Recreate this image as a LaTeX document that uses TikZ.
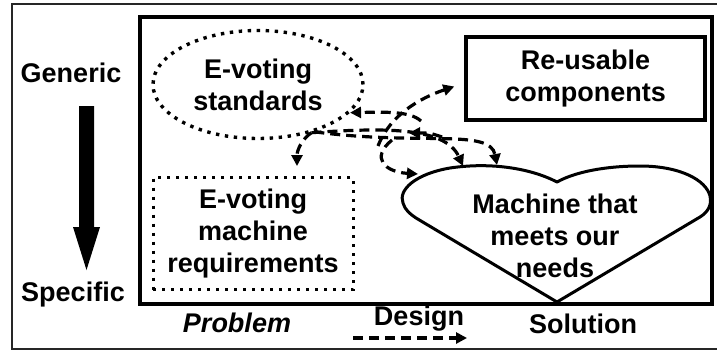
\documentclass[tikz,border=0pt]{standalone}
\usepackage{fontspec}
\setmainfont{Liberation Sans}
\usetikzlibrary{shapes.geometric,arrows.meta}
\tikzset{
  lbl/.style={font=\fontsize{27}{32}\selectfont\bfseries, inner sep=0pt, align=center},
  dotline/.style={line width=3.4pt, dash pattern=on 3.4pt off 5.6pt},
  dsh/.style={line width=3.2pt, dash pattern=on 10pt off 6pt, -{Triangle[length=11pt,width=11pt]}},
}
\begin{document}
\begin{tikzpicture}[x=1pt,y=-1pt]
\useasboundingbox (0,0) rectangle (717,351);
% outer and inner frames
\draw[line width=2.2pt, black!85] (12,4) rectangle (724,349);
\draw[line width=3.4pt] (140,17) rectangle (712,304);
% side labels and big arrow
\node[lbl, anchor=base] (gen) at (71,82) {Generic};
\node[lbl, anchor=base] (spec) at (73,301) {Specific};
\fill (79,106) -- (94,106) -- (94,227) -- (100,227) -- (86.5,270) -- (73,227) -- (79,227) -- cycle;
% boxes
\node[lbl, ellipse, draw, dotline, minimum width=210pt, minimum height=108pt] (std) at (258,84.5) {E-voting\\standards};
\node[lbl, draw, line width=3.4pt, minimum width=239pt, minimum height=83pt] (reu) at (585.5,78.5) {Re-usable\\components};
\node[lbl, draw, dotline, line width=3pt, dash pattern=on 3pt off 6pt, minimum width=200pt, minimum height=112pt] (req) at (253,233.5) {E-voting\\machine\\requirements};
% heart
\draw[line width=3pt, line join=round] (557,182) .. controls (530,168) and (490,162) .. (450,168)
  .. controls (415,174) and (398,190) .. (403,203)
  .. controls (405,210) and (410,214) .. (416,218) -- (557,302) -- (700,217)
  .. controls (708,212) and (712,205) .. (710,196)
  .. controls (706,180) and (680,166) .. (640,166)
  .. controls (605,166) and (575,172) .. (557,182) -- cycle;
\node[lbl] (heart) at (555,236) {Machine that\\meets our\\needs};
% named free ends
\coordinate (h1) at (463,166);
\coordinate (h2) at (497,165);
\coordinate (hl) at (418,174);
\coordinate (c1) at (378,146);
\coordinate (c2) at (421,121);
\coordinate (c3) at (392,140);
\coordinate (c4) at (442,137);
\coordinate (c5) at (409,133);
% dashed connectors
\draw[dsh] (std.-42) .. controls (380,128) and (445,126) .. (h1);
\draw[dsh] (std.-40) .. controls (420,146) and (490,128) .. (h2);
\draw[dsh] (std.-42) .. controls (302,139) and (297,150) .. ([xshift=44pt,yshift=10pt]req.north);
\draw[dsh] (c2) .. controls (410,111) and (385,112) .. (std.-17);
\draw[dsh] (c1) .. controls (390,115) and (420,98) .. ([xshift=-10pt,yshift=-8pt]reu.west);
\draw[dsh] (c3) .. controls (370,158) and (385,172) .. (hl);
\draw[dsh] (c4) .. controls (430,133) .. (c5);
% bottom labels
\node[lbl, anchor=base, font=\fontsize{27}{32}\selectfont\bfseries\itshape] (prob) at (237,332) {Problem};
\node[lbl, anchor=base] (des) at (419,325) {Design};
\node[lbl, anchor=base] (sol) at (583,333) {Solution};
\coordinate (d1) at (353,338);
\coordinate (d2) at (467,338);
\draw[dsh] (d1) -- (d2);
\end{tikzpicture}
\end{document}
